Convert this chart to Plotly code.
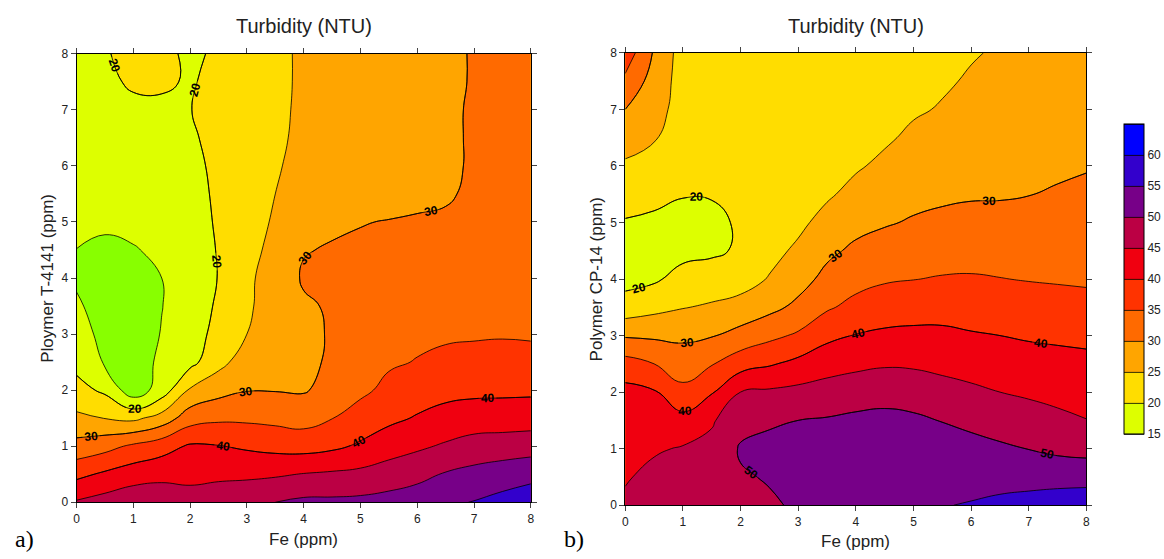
import numpy as np
import plotly.graph_objects as go

# Grid: Fe dose (x) and polymer dose (y), both in ppm
fe_ppm = [0, 0.5, 1, 1.5, 2, 2.5, 3, 3.5, 4, 4.5, 5, 5.5, 6, 6.5, 7, 7.5, 8]
polymer_ppm = [0, 0.5, 1, 1.5, 2, 2.5, 3, 3.5, 4, 4.5, 5, 5.5, 6, 6.5, 7, 7.5, 8]

# Turbidity (NTU) with polymer T-4141: one list per Fe dose, running up the polymer axis
turbidity_t4141 = [
    [45.5, 38.7, 31.7, 26.0, 21.7, 18.5, 16.5, 15.4, 14.6, 14.95, 16.0, 17.0, 17.5, 18.0, 18.3, 18.6, 18.8],
    [47.0, 40.8, 33.3, 24.9, 19.1, 14.5, 14.0, 13.8, 13.9, 14.4, 15.5, 16.5, 17.3, 18.0, 18.6, 19.1, 19.6],
    [48.5, 42.6, 35.9, 23.9, 12.0, 12.5, 12.5, 12.8, 13.5, 14.8, 15.8, 16.5, 17.3, 18.0, 19.0, 20.6, 21.5],
    [48.5, 43.5, 38.0, 27.0, 17.3, 16.0, 15.2, 14.9, 15.0, 15.6, 16.3, 17.0, 17.7, 18.4, 19.2, 20.6, 20.8],
    [47.0, 43.7, 40.6, 32.8, 25.6, 18.5, 17.5, 17.3, 17.2, 17.4, 17.8, 18.3, 18.8, 19.4, 19.9, 19.6, 19.4],
    [47.5, 44.1, 40.2, 34.1, 28.3, 23.5, 21.7, 20.7, 20.15, 20.3, 20.6, 20.8, 21.0, 21.3, 21.5, 21.2, 20.5],
    [48.5, 44.1, 39.3, 34.1, 29.8, 27.4, 25.0, 24.3, 23.9, 23.5, 23.2, 22.9, 22.7, 22.8, 22.9, 22.6, 22.3],
    [50.0, 44.4, 38.5, 33.7, 29.8, 27.8, 27.2, 27.2, 27.6, 26.3, 25.5, 25.0, 24.7, 24.5, 24.4, 24.4, 24.4],
    [51.0, 45.2, 38.1, 33.1, 29.6, 29.0, 28.9, 29.5, 30.4, 29.8, 28.0, 26.6, 25.9, 25.6, 25.5, 25.4, 25.4],
    [51.0, 45.7, 39.0, 34.9, 31.6, 30.6, 30.4, 30.4, 30.7, 30.3, 29.4, 27.8, 27.0, 26.6, 26.4, 26.3, 26.2],
    [51.2, 46.2, 40.7, 37.1, 34.0, 32.0, 31.0, 30.8, 30.6, 30.4, 29.9, 28.6, 27.9, 27.5, 27.3, 27.2, 27.0],
    [51.8, 47.3, 42.8, 38.9, 36.2, 34.4, 33.4, 32.6, 31.8, 31.0, 30.1, 29.0, 28.5, 28.2, 28.1, 28.0, 27.8],
    [52.8, 48.5, 44.2, 40.4, 37.7, 35.2, 34.1, 33.1, 32.2, 31.2, 30.3, 29.3, 29.0, 28.9, 28.8, 28.7, 28.6],
    [54.2, 50.4, 45.6, 41.7, 38.6, 36.0, 34.4, 33.4, 32.4, 31.5, 30.5, 29.6, 29.5, 29.5, 29.5, 29.4, 29.4],
    [55.2, 51.5, 46.9, 42.5, 38.9, 36.2, 34.6, 33.6, 32.8, 32.0, 31.2, 30.6, 30.3, 30.3, 30.3, 30.2, 30.2],
    [56.5, 52.6, 47.3, 42.6, 39.0, 36.4, 34.7, 33.8, 33.1, 32.5, 31.9, 31.3, 31.0, 31.0, 31.0, 31.0, 31.0],
    [57.5, 53.7, 47.7, 42.8, 39.1, 36.2, 34.6, 34.0, 33.4, 32.8, 32.3, 31.8, 31.7, 31.7, 31.7, 31.7, 31.6],
]

# Turbidity (NTU) with polymer CP-14, same layout
turbidity_cp14 = [
    [46.0, 44.5, 43.3, 42.3, 41.5, 37.0, 29.5, 22.0, 18.5, 18.3, 19.7, 21.8, 24.3, 27.1, 30.0, 33.9, 38.0],
    [47.5, 46.4, 44.4, 42.6, 40.5, 35.0, 29.2, 23.6, 19.3, 18.6, 19.3, 21.0, 23.3, 25.4, 26.5, 28.0, 29.5],
    [48.0, 46.8, 45.4, 41.7, 36.3, 32.5, 29.1, 24.8, 21.7, 18.6, 18.8, 20.2, 21.3, 22.3, 23.4, 23.0, 22.8],
    [49.0, 48.0, 46.5, 44.4, 39.6, 34.7, 29.7, 25.6, 22.3, 19.2, 18.9, 20.3, 21.4, 22.3, 23.0, 23.4, 23.6],
    [49.2, 49.6, 50.4, 48.6, 45.0, 37.9, 31.7, 26.7, 23.0, 20.6, 20.6, 21.2, 21.8, 22.3, 22.7, 22.8, 22.9],
    [49.5, 50.3, 51.0, 49.5, 45.7, 39.5, 33.8, 28.7, 25.3, 23.6, 23.3, 23.1, 22.9, 22.8, 22.8, 22.8, 22.8],
    [50.5, 51.2, 51.5, 50.0, 46.3, 41.3, 35.7, 31.1, 28.2, 25.8, 24.0, 23.6, 23.4, 23.2, 23.1, 23.0, 23.0],
    [51.3, 51.8, 51.9, 50.4, 46.9, 43.1, 38.8, 34.4, 31.3, 29.0, 26.5, 24.4, 23.9, 23.7, 23.5, 23.4, 23.3],
    [52.0, 52.5, 52.5, 51.0, 47.7, 43.9, 40.2, 36.4, 33.4, 30.9, 28.6, 26.3, 24.5, 24.0, 23.9, 23.7, 23.6],
    [52.6, 53.0, 53.0, 51.3, 48.2, 44.5, 40.9, 37.5, 34.5, 31.9, 29.6, 27.9, 25.9, 24.4, 24.0, 23.9, 23.9],
    [53.5, 53.6, 53.2, 50.9, 47.6, 44.4, 41.1, 38.0, 34.9, 32.6, 30.4, 28.8, 27.3, 25.8, 24.5, 24.2, 24.1],
    [54.8, 54.0, 52.7, 49.8, 46.7, 43.8, 41.0, 38.2, 35.3, 33.1, 30.9, 29.3, 27.9, 26.6, 25.3, 24.5, 24.4],
    [55.3, 53.3, 51.6, 48.8, 45.9, 43.1, 40.4, 37.9, 35.4, 33.3, 31.2, 29.6, 28.4, 27.3, 26.3, 25.4, 24.7],
    [56.0, 53.4, 50.7, 47.9, 45.0, 42.5, 40.0, 37.5, 35.1, 33.3, 31.4, 29.6, 28.6, 27.7, 26.9, 26.1, 25.4],
    [56.7, 53.3, 49.9, 47.1, 44.3, 41.9, 39.5, 37.1, 34.8, 33.2, 31.6, 29.9, 28.9, 28.1, 27.4, 26.7, 26.2],
    [57.4, 53.3, 48.9, 46.1, 43.6, 41.5, 39.2, 36.7, 34.6, 33.2, 31.8, 30.4, 29.3, 28.6, 28.0, 27.5, 27.1],
    [58.0, 53.2, 48.4, 45.1, 43.2, 41.2, 38.9, 36.4, 34.4, 33.2, 32.0, 30.9, 29.7, 29.1, 28.6, 28.3, 28.0],
]

# Contour levels and band colours (below 15, then 15-20 ... 60-65)
level_start, level_end, level_step = 15, 65, 5
band_colors = ["#88FF00", "#DDFF00", "#FFDD00", "#FFA500", "#FF6A00", "#FF3300",
               "#F00010", "#BB0044", "#770088", "#3300CC", "#0000FF"]
colorbar_ticks = [15, 20, 25, 30, 35, 40, 45, 50, 55, 60]

# Labelled isolines every 10 NTU; the label ladders run far below the data so
# the unused rungs stay empty while plotly spaces labels more densely.
label_step = 10
label_top_a = 40   # panel a labels 20, 30, 40
label_top_b = 50   # panel b labels 20, 30, 40, 50
label_rungs = 60

W, H = 1164, 559

# Step colourscale over [15, 65]: each band colour fills one tenth; the
# sliver at 0 is the colour used below the first level.
colorscale = [[0.0, band_colors[0]], [0.01, band_colors[0]]]
for k in range(1, 11):
    lo = 0.01 if k == 1 else (k - 1) / 10
    colorscale.append([lo, band_colors[k]])
    colorscale.append([k / 10, band_colors[k]])

z_a = np.array(turbidity_t4141).T
z_b = np.array(turbidity_cp14).T

font_family = "Liberation Sans, Arial, sans-serif"


def fill_trace(z, xa, ya, show_scale):
    return go.Contour(
        x=fe_ppm, y=polymer_ppm, z=z, xaxis=xa, yaxis=ya,
        zmin=level_start, zmax=level_end, colorscale=colorscale,
        autocontour=False,
        contours=dict(start=level_start, end=level_end, size=level_step,
                      coloring="fill", showlines=True, showlabels=False),
        line=dict(color="black", width=0.8, smoothing=1.3),
        showscale=show_scale,
        colorbar=dict(
            x=1128 / W, xanchor="left", xpad=0,
            y=1 - 279 / H, yanchor="middle", ypad=0,
            len=310, lenmode="pixels", thickness=20, thicknessmode="pixels",
            outlinecolor="black", outlinewidth=1,
            tickvals=colorbar_ticks, ticks="",
            tickfont=dict(size=12, color="#222", family=font_family),
        ),
        hoverinfo="skip",
    )


def label_trace(z, xa, ya, top):
    return go.Contour(
        x=fe_ppm, y=polymer_ppm, z=z, xaxis=xa, yaxis=ya,
        autocontour=False,
        contours=dict(start=top - (label_rungs - 1) * label_step, end=top,
                      size=label_step,
                      coloring="none", showlines=True, showlabels=True,
                      labelfont=dict(size=12, color="black", family=font_family,
                                     weight="bold")),
        line=dict(color="black", width=0.8, smoothing=1.3),
        showscale=False,
        hoverinfo="skip",
    )


fig = go.Figure([
    fill_trace(z_a, "x", "y", True),
    label_trace(z_a, "x", "y", label_top_a),
    fill_trace(z_b, "x2", "y2", False),
    label_trace(z_b, "x2", "y2", label_top_b),
])

axis_common = dict(
    range=[0, 8], tick0=0, dtick=1, ticks="outside", ticklen=5, tickcolor="#444",
    showline=True, linecolor="black", linewidth=1, mirror="ticks",
    showgrid=False, zeroline=False,
    tickfont=dict(size=12, color="#222", family=font_family),
)

fig.update_layout(
    width=W, height=H,
    margin=dict(l=0, r=0, t=0, b=0),
    paper_bgcolor="white", plot_bgcolor="white",
    font=dict(family=font_family, color="#222"),
    showlegend=False,
    xaxis=dict(domain=[74 / W, 531 / W], anchor="y", **axis_common),
    yaxis=dict(domain=[1 - 508 / H, 1 - 48 / H], anchor="x", **axis_common),
    xaxis2=dict(domain=[626 / W, 1090 / W], anchor="y2", **axis_common),
    yaxis2=dict(domain=[1 - 511 / H, 1 - 47 / H], anchor="x2", **axis_common),
)

annotations = [
    dict(text="Turbidity (NTU)", x=302.5 / W, y=1 - 20 / H, size=20),
    dict(text="Turbidity (NTU)", x=858 / W, y=1 - 20 / H, size=20),
    dict(text="Fe (ppm)", x=302.5 / W, y=1 - 546 / H, size=17),
    dict(text="Fe (ppm)", x=858 / W, y=1 - 548 / H, size=17),
    dict(text="Ploymer T-4141 (ppm)", x=44 / W, y=1 - 278 / H, size=17, angle=-90),
    dict(text="Polymer CP-14 (ppm)", x=597 / W, y=1 - 279 / H, size=17, angle=-90),
]
for a in annotations:
    fig.add_annotation(
        text=a["text"], x=a["x"], y=a["y"], xref="paper", yref="paper",
        xanchor="center", yanchor="middle", showarrow=False,
        textangle=a.get("angle", 0),
        font=dict(size=a["size"], color="#222", family=font_family),
    )

for txt, px, py in [("a)", 10, 546), ("b)", 562, 546)]:
    fig.add_annotation(
        text=txt, x=px / W, y=1 - py / H, xref="paper", yref="paper",
        xanchor="left", yanchor="middle", showarrow=False,
        font=dict(size=24, color="black", family="Liberation Serif, Times New Roman, serif"),
    )

fig.write_html("out.html")
